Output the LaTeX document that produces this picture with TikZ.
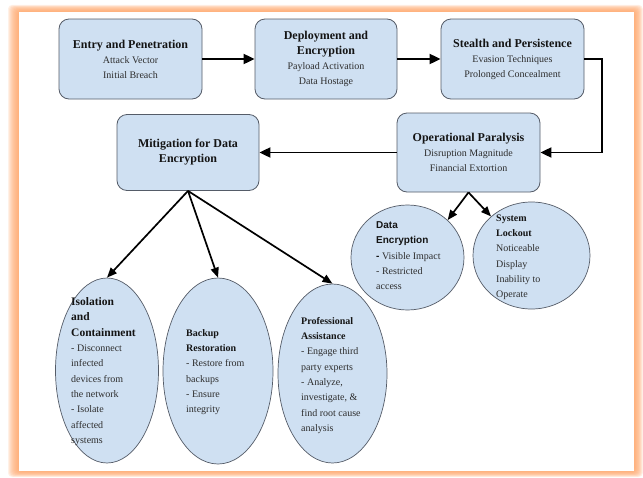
\documentclass[tikz,border=0pt]{standalone}
\usepackage{fontspec}
\setmainfont{Liberation Serif}
\newfontfamily\sansf{Liberation Sans}
\usetikzlibrary{arrows.meta,shapes.geometric,calc}
\definecolor{boxfill}{RGB}{207,224,242}
\definecolor{boxline}{RGB}{85,92,104}
\definecolor{glow}{RGB}{255,165,105}
\definecolor{titletxt}{RGB}{20,20,20}
\definecolor{subtxt}{RGB}{45,45,45}
\newcommand\boxtitle[1]{{\fontsize{12}{17}\selectfont\bfseries\color{titletxt}#1}}
\newcommand\ovtitle[1]{{\bfseries\color{titletxt}#1}}
\begin{document}
\begin{tikzpicture}[x=1pt,y=-1pt,
  stepbox/.style={draw=boxline, fill=boxfill, rounded corners=10pt, line width=0.8pt, align=center, inner sep=0pt, text=subtxt, font=\fontsize{10}{15}\selectfont},
  oval/.style={draw=boxline, fill=boxfill, ellipse, line width=0.7pt, inner sep=0pt},
  ovaltext/.style={anchor=north west, inner sep=0pt, align=left, text=subtxt, font=\fontsize{10}{15.3}\selectfont},
  flow/.style={line width=1.9pt, -{Triangle[length=11pt,width=10pt]}},
  branch/.style={line width=1.7pt, -{Triangle[length=10pt,width=8pt]}}
]
\useasboundingbox (0,0) rectangle (643,477);
% glow frame
\foreach \k in {1,...,11} {
  \fill[glow, opacity=0.16, rounded corners=4pt] (19-\k,12-0.65*\k) rectangle (634+0.8*\k,471+0.55*\k);
}
\fill[white] (19,12) rectangle (634,471);

% boxes
\node[stepbox, minimum width=143pt, minimum height=80pt] (entry) at (130.5,59)
  {\boxtitle{Entry and Penetration}\\ Attack Vector\\ Initial Breach};
\node[stepbox, minimum width=142pt, minimum height=80pt] (deploy) at (326,59)
  {\boxtitle{Deployment and}\\ \boxtitle{Encryption}\\ Payload Activation\\ Data Hostage};
\node[stepbox, minimum width=143pt, minimum height=80pt] (stealth) at (512.5,59)
  {\boxtitle{Stealth and Persistence}\\ Evasion Techniques\\ Prolonged Concealment};
\node[stepbox, minimum width=143pt, minimum height=79pt] (oper) at (468.5,152.5)
  {\boxtitle{Operational Paralysis}\\ Disruption Magnitude\\ Financial Extortion};
\node[stepbox, minimum width=142pt, minimum height=76pt] (mitig) at (188,152.5)
  {\boxtitle{Mitigation for Data}\\ \boxtitle{Encryption}};

% ellipses
\node[oval, minimum width=113pt, minimum height=105pt] (dataenc) at (407.5,257.5) {};
\node[oval, minimum width=117pt, minimum height=107pt] (lockout) at (531.5,255.5) {};
\node[oval, minimum width=103pt, minimum height=185pt] (isol) at (107,370.5) {};
\node[oval, minimum width=110pt, minimum height=186pt] (backup) at (218,371) {};
\node[oval, minimum width=109pt, minimum height=179pt] (prof) at (332.5,373.5) {};

% ellipse texts
\node[ovaltext] (dataenctext) at (376,221.5)
  {{\sansf\bfseries\color{titletxt}Data}\\ {\sansf\bfseries\color{titletxt}Encryption}\\ {\sansf\bfseries\color{titletxt}-} Visible Impact\\ - Restricted\\ access};
\node[ovaltext] (lockouttext) at (496,214.5)
  {\ovtitle{System}\\ \ovtitle{Lockout}\\ Noticeable\\ Display\\ Inability to\\ Operate};
\node[ovaltext] (isoltext) at (71,297.5)
  {{\fontsize{11.5}{15.3}\selectfont\ovtitle{Isolation}}\\ {\fontsize{11.5}{15.3}\selectfont\ovtitle{and}}\\ {\fontsize{11.5}{15.3}\selectfont\ovtitle{Containment}}\\ - Disconnect\\ infected\\ devices from\\ the network\\ - Isolate\\ affected\\ systems};
\node[ovaltext] (backuptext) at (186,329)
  {\ovtitle{Backup}\\ \ovtitle{Restoration}\\ - Restore from\\ backups\\ - Ensure\\ integrity};
\node[ovaltext] (proftext) at (301,317)
  {\ovtitle{Professional}\\ \ovtitle{Assistance}\\ - Engage third\\ party experts\\ - Analyze,\\ investigate, \&\\ find root cause\\ analysis};

% connectors
\draw[flow] (entry) -- (deploy);
\draw[flow] (deploy) -- (stealth);
\draw[flow] (stealth.east) -- ++(18,0) |- (oper.east);
\draw[flow] (oper.west) -- (mitig.east);
\draw[branch] (oper.south) -- (dataenc.43);
\draw[branch] (oper.south) -- (lockout.136);
\draw[branch] (mitig.south) -- (isol.north);
\draw[branch] (mitig.south) -- (backup.north);
\draw[branch] (mitig.south) -- (prof.north);
\end{tikzpicture}
\end{document}
